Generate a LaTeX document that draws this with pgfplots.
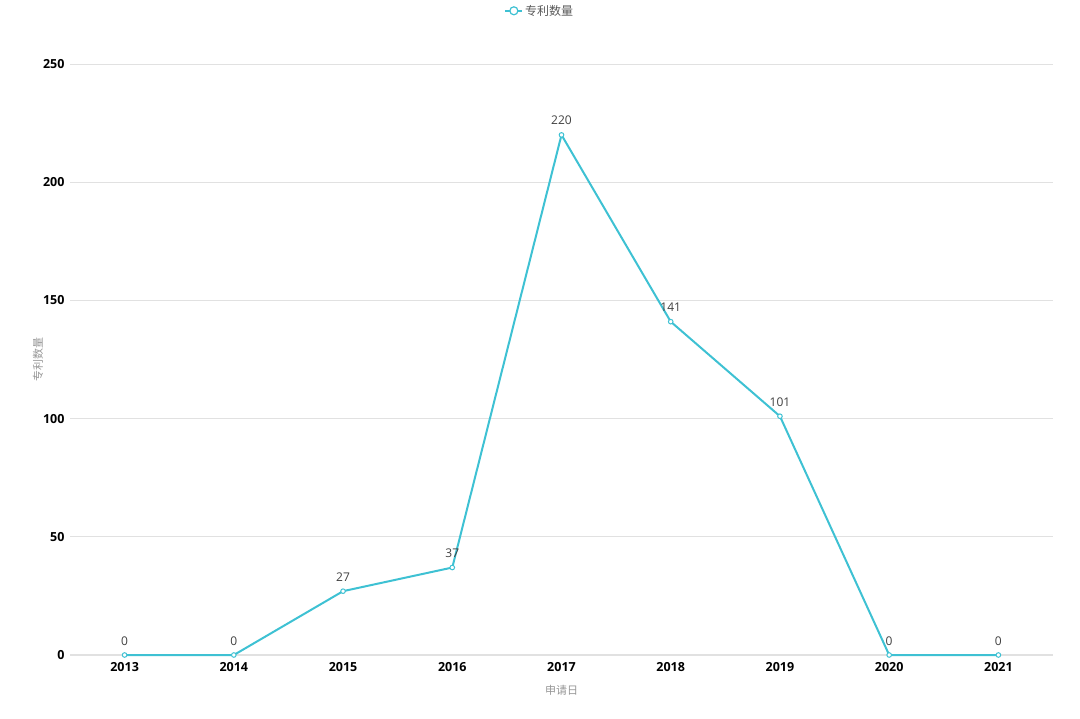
\documentclass[border=0pt]{standalone}
\usepackage{fontspec}
\setmainfont{Open Sans}
\newfontfamily\cjk{Noto Sans CJK SC}
\usepackage{pgfplots}
\pgfplotsset{compat=1.18}
\definecolor{lc}{RGB}{62,193,211}
\definecolor{gridc}{RGB}{225,225,225}
\definecolor{labc}{RGB}{150,150,150}
\begin{document}
\begin{tikzpicture}
\path[use as bounding box] (-70bp,-64bp) rectangle (1010bp,655bp);
\begin{axis}[
  scale only axis, width=983bp, height=591bp,
  xmin=-0.5, xmax=8.5, ymin=0, ymax=250,
  xtick={0,...,8},
  xticklabels={2013,2014,2015,2016,2017,2018,2019,2020,2021},
  ytick={0,50,100,150,200,250},
  axis x line*=bottom,
  axis y line*=left,
  y axis line style={draw=none},
  x axis line style={draw=gridc, line width=1.2pt, -},
  ymajorgrids, grid style={draw=gridc, line width=0.7pt},
  major tick length=0pt,
  /pgf/number format/assume math mode=true,
  xticklabel style={font=\fontsize{12.5bp}{14bp}\selectfont\bfseries, text=black, yshift=-4bp},
  yticklabel style={font=\fontsize{12.5bp}{14bp}\selectfont\bfseries, text=black, xshift=-2bp},
  clip=false,
  nodes near coords,
  every node near coord/.style={font=\fontsize{12bp}{14bp}\selectfont, text=black!75, yshift=6bp},
  legend style={at={(0.478,1.09)}, anchor=center, draw=none, fill=none,
    font=\fontsize{12bp}{14bp}\selectfont\cjk, text=black!65},
  legend image code/.code={
    \draw[lc, line width=1.4pt] (0cm,0cm) -- (0.6cm,0cm);
    \draw[lc, fill=white, line width=1.2pt] (0.3cm,0cm) circle (4bp);
  },
]
\addplot[lc, line width=2bp, mark=*, mark size=2.3bp,
  mark options={fill=white, draw=lc, line width=1pt}]
  coordinates {(0,0) (1,0) (2,27) (3,37) (4,220) (5,141) (6,101) (7,0) (8,0)};
\addlegendentry{专利数量}
\node[rotate=90, font=\fontsize{11bp}{13bp}\selectfont\cjk, text=labc] at ([xshift=-32bp]rel axis cs:0,0.5) {专利数量};
\node[font=\fontsize{11bp}{13bp}\selectfont\cjk, text=labc] at ([yshift=-35bp]axis cs:4,0) {申请日};
\end{axis}
\end{tikzpicture}
\end{document}
